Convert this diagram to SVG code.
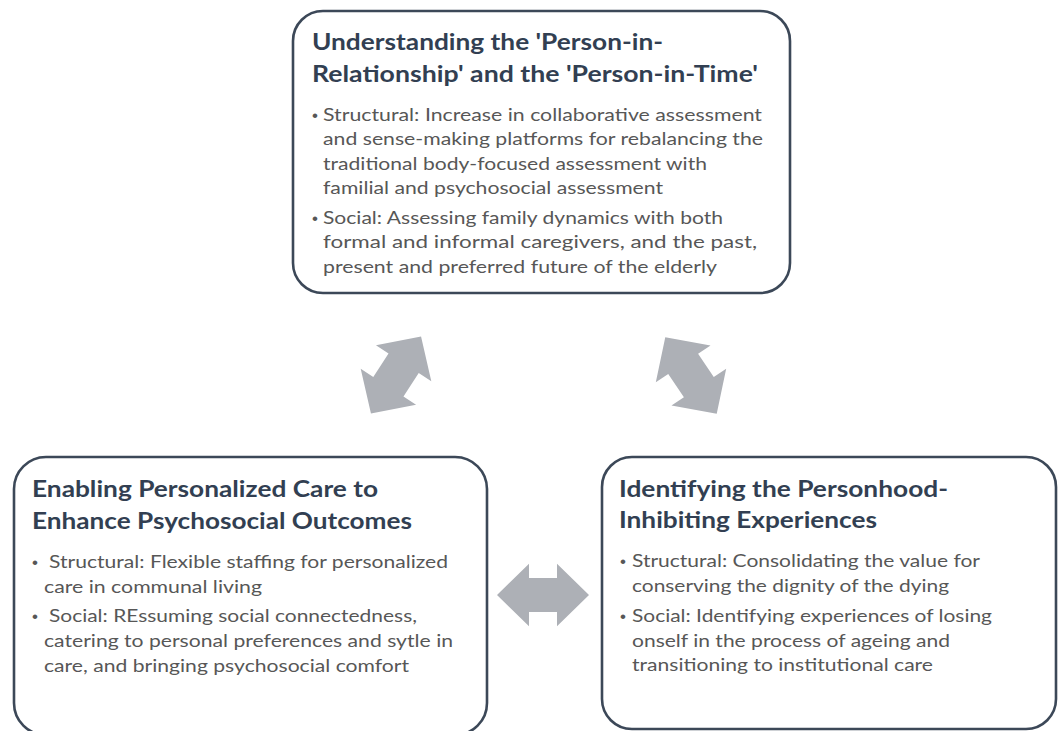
<svg xmlns="http://www.w3.org/2000/svg" width="1058" height="731" viewBox="0 0 1058 731">
<style>
.box{fill:#ffffff;stroke:#3c4858;stroke-width:2.6}
.title{font-family:Lato,"Open Sans","Liberation Sans",sans-serif;font-weight:bold;font-size:23px;fill:#323f52}
.body{font-family:Lato,"Open Sans","Liberation Sans",sans-serif;font-size:18px;fill:#575757}
.dot{font-family:"Liberation Sans",sans-serif;font-size:17px;fill:#575757}
.arrow{fill:#adb0b6}
</style>
<defs>
<polygon id="dbl" points="-46,0 -14,-33 -14,-18 14,-18 14,-33 46,0 14,33 14,18 -14,18 -14,33"/>
</defs>
<rect width="1058" height="731" fill="#ffffff"/>
<g id="connectors">
<use href="#dbl" class="arrow" transform="translate(396,375) rotate(-57)"/>
<use href="#dbl" class="arrow" transform="translate(691,375.5) rotate(56)"/>
<use href="#dbl" class="arrow" transform="translate(543,595) scale(1,0.95)"/>
</g>
<g id="node-top">
<rect class="box" x="293" y="11" width="497" height="282" rx="30"/>
<text class="title" x="312" y="50" textLength="351" lengthAdjust="spacingAndGlyphs">Understanding the 'Person-in-</text>
<text class="title" x="312" y="82" textLength="446" lengthAdjust="spacingAndGlyphs">Relationship' and the 'Person-in-Time'</text>
<text class="dot" x="312" y="121">•</text>
<text class="body" x="323" y="121" textLength="439" lengthAdjust="spacingAndGlyphs">Structural: Increase in collaborative assessment</text>
<text class="body" x="323" y="145" textLength="440" lengthAdjust="spacingAndGlyphs">and sense-making platforms for rebalancing the</text>
<text class="body" x="323" y="170" textLength="384" lengthAdjust="spacingAndGlyphs">traditional body-focused assessment with</text>
<text class="body" x="323" y="194" textLength="340" lengthAdjust="spacingAndGlyphs">familial and psychosocial assessment</text>
<text class="dot" x="312" y="224">•</text>
<text class="body" x="323" y="224" textLength="400" lengthAdjust="spacingAndGlyphs">Social: Assessing family dynamics with both</text>
<text class="body" x="323" y="248" textLength="434" lengthAdjust="spacingAndGlyphs">formal and informal caregivers, and the past,</text>
<text class="body" x="323" y="273" textLength="394" lengthAdjust="spacingAndGlyphs">present and preferred future of the elderly</text>
</g>
<g id="node-left">
<rect class="box" x="14" y="457" width="473" height="278" rx="32"/>
<text class="title" x="32" y="497" textLength="346" lengthAdjust="spacingAndGlyphs">Enabling Personalized Care to</text>
<text class="title" x="32" y="529" textLength="380" lengthAdjust="spacingAndGlyphs">Enhance Psychosocial Outcomes</text>
<text class="dot" x="32" y="568">•</text>
<text class="body" x="49" y="568" textLength="399" lengthAdjust="spacingAndGlyphs">Structural: Flexible staffing for personalized</text>
<text class="body" x="44" y="593" textLength="218" lengthAdjust="spacingAndGlyphs">care in communal living</text>
<text class="dot" x="32" y="622">•</text>
<text class="body" x="49" y="622" textLength="368" lengthAdjust="spacingAndGlyphs">Social: REssuming social connectedness,</text>
<text class="body" x="44" y="647" textLength="409" lengthAdjust="spacingAndGlyphs">catering to personal preferences and sytle in</text>
<text class="body" x="44" y="672" textLength="365" lengthAdjust="spacingAndGlyphs">care, and bringing psychosocial comfort</text>
</g>
<g id="node-right">
<rect class="box" x="602" y="457" width="454" height="272" rx="30"/>
<text class="title" x="619" y="497" textLength="329" lengthAdjust="spacingAndGlyphs">Identifying the Personhood-</text>
<text class="title" x="619" y="528" textLength="258" lengthAdjust="spacingAndGlyphs">Inhibiting Experiences</text>
<text class="dot" x="620" y="567">•</text>
<text class="body" x="632" y="567" textLength="348" lengthAdjust="spacingAndGlyphs">Structural: Consolidating the value for</text>
<text class="body" x="632" y="592" textLength="317" lengthAdjust="spacingAndGlyphs">conserving the dignity of the dying</text>
<text class="dot" x="620" y="622">•</text>
<text class="body" x="632" y="622" textLength="360" lengthAdjust="spacingAndGlyphs">Social: Identifying experiences of losing</text>
<text class="body" x="632" y="647" textLength="318" lengthAdjust="spacingAndGlyphs">onself in the process of ageing and</text>
<text class="body" x="632" y="671" textLength="301" lengthAdjust="spacingAndGlyphs">transitioning to institutional care</text>
</g>
</svg>
